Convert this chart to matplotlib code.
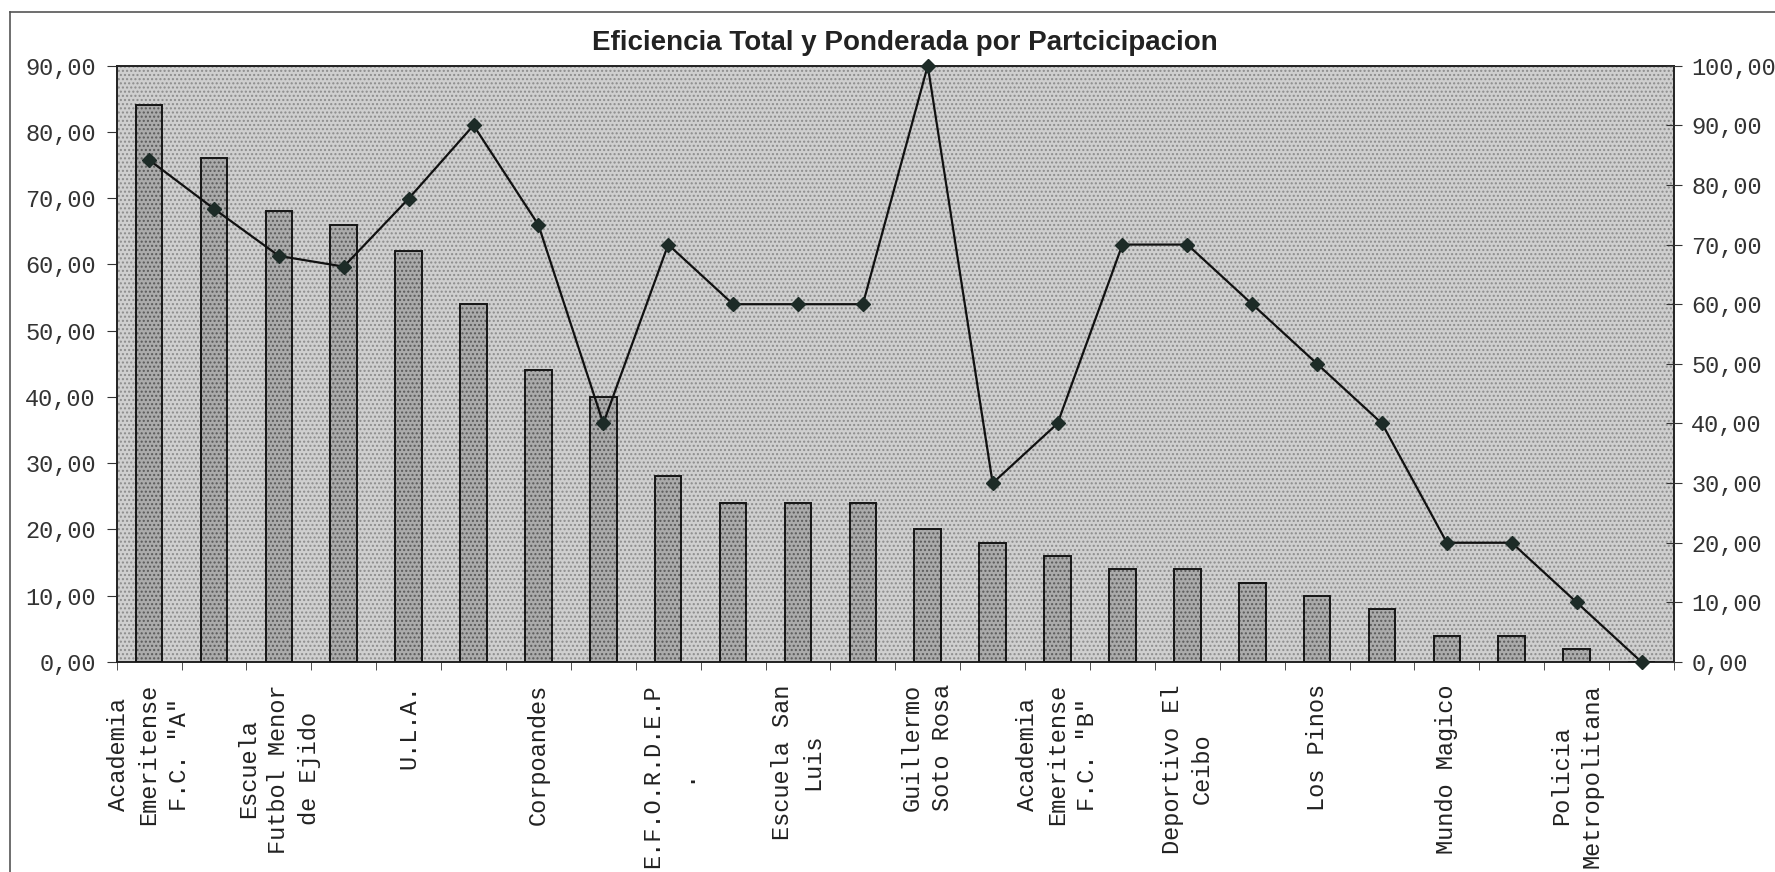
import numpy as np
import matplotlib
matplotlib.use("Agg")
import matplotlib.pyplot as plt
from matplotlib.patches import Rectangle
from matplotlib.lines import Line2D
from matplotlib.ticker import FuncFormatter, FixedLocator


# data
eficiencia_total = [84, 76, 68, 66, 62, 54, 44, 40, 28, 24, 24, 24,
                    20, 18, 16, 14, 14, 12, 10, 8, 4, 4, 2, 0]

ponderada = [84.2, 76.0, 68.1, 66.3, 77.7, 90.0, 73.3, 40.0, 70.0, 60.0, 60.0, 60.0,
             100.0, 30.0, 40.0, 70.0, 70.0, 60.0, 50.0, 40.0, 20.0, 20.0, 10.0, 0.0]

tick_labels = [
    'Academia\nEmeritense\nF.C. "A"',
    'Escuela\nFutbol Menor\nde Ejido',
    'U.L.A.',
    'Corpoandes',
    'E.F.O.R.D.E.P\n.',
    'Escuela San\nLuis',
    'Guillermo\nSoto Rosa',
    'Academia\nEmeritense\nF.C. "B"',
    'Deportivo El\nCeibo',
    'Los Pinos',
    'Mundo Magico',
    'Policia\nMetropolitana',
]

title = "Eficiencia Total y Ponderada por Partcicipacion"

mono = "Liberation Mono"
comma = FuncFormatter(lambda v, p: f"{v:.2f}".replace(".", ","))

fig = plt.figure(figsize=(17.75, 8.72), dpi=100)
ax = fig.add_axes([0.0657, 0.2408, 0.8774, 0.6839])

n = len(eficiencia_total)
x = np.arange(n)

# halftone-ish plot background
ax.set_facecolor("#cfcfcf")
ax.add_patch(Rectangle((0, 0), 1, 1, transform=ax.transAxes, facecolor="none",
                       edgecolor="#8c8c8c", linewidth=0, hatch="....", zorder=0))

# bars: hatched fill, then black outline
ax.bar(x, eficiencia_total, width=0.41, color="#ababab", edgecolor="#5a5a5a",
       linewidth=0, hatch="....", zorder=2)
ax.bar(x, eficiencia_total, width=0.41, fill=False, edgecolor="#151515",
       linewidth=1.4, zorder=3)

ax.set_xlim(-0.5, n - 0.5)
ax.set_ylim(0, 90)
ax.yaxis.set_major_locator(FixedLocator(np.arange(0, 91, 10)))
ax.yaxis.set_major_formatter(comma)

ax.set_xticks(x[::2])
ax.set_xticklabels(tick_labels, rotation=90, fontfamily=mono, fontsize=17,
                   multialignment="center", linespacing=1.4, color="#222222")
ax.set_xticks(np.arange(-0.5, n, 1), minor=True)
ax.tick_params(axis="x", which="major", length=0, pad=16)
ax.tick_params(axis="x", which="minor", length=6, direction="out", color="#333333")
ax.tick_params(axis="y", direction="out", length=7, pad=8, labelsize=17, color="#333333",
               labelcolor="#333333")
for lab in ax.get_yticklabels():
    lab.set_fontfamily(mono)

for s in ax.spines.values():
    s.set_color("#222222")
    s.set_linewidth(1.4)

ax2 = ax.twinx()
ax2.plot(x, ponderada, color="#111111", linewidth=1.6, marker="D", markersize=7.5,
         markerfacecolor="#1d2b27", markeredgecolor="#1d2b27", clip_on=False, zorder=5)
ax2.set_ylim(0, 100)
ax2.yaxis.set_major_locator(FixedLocator(np.arange(0, 101, 10)))
ax2.yaxis.set_major_formatter(comma)
ax2.tick_params(axis="y", direction="inout", length=11, pad=7, labelsize=17,
                color="#333333", labelcolor="#333333")
for lab in ax2.get_yticklabels():
    lab.set_fontfamily(mono)
for s in ax2.spines.values():
    s.set_visible(False)

fig.text(0.5096, 0.951, title, ha="center", va="center", fontsize=20,
         fontweight="bold", fontfamily="Liberation Sans", color="#222222")

# chart area border (top and left edge visible in the scan)
fig.add_artist(Line2D([0.0056, 1.0], [0.9866, 0.9866], color="#555555", linewidth=1.2))
fig.add_artist(Line2D([0.0056, 0.0056], [0.0, 0.9866], color="#555555", linewidth=1.2))

fig.savefig("out.png", dpi=100)
